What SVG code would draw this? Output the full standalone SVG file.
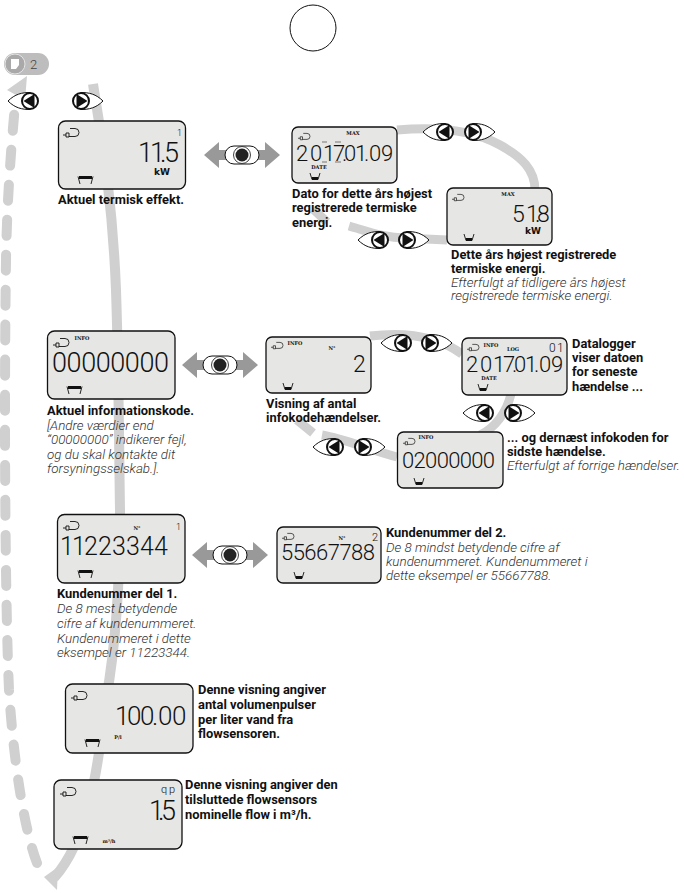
<svg xmlns="http://www.w3.org/2000/svg" width="684" height="893" viewBox="0 0 684 893">
<style>
.flow{fill:none;stroke:#d0d0d0;stroke-width:9}
.main{fill:none;stroke:#d0d0d0;stroke-width:10}
.box{fill:#e6e6e4;stroke:#111;stroke-width:1.3}
.t{font-family:Roboto,"Liberation Sans",sans-serif;font-size:12.9px;font-weight:700;fill:#111}
.i{font-family:Roboto,"Liberation Sans",sans-serif;font-size:13.400px;font-weight:300;font-style:italic;fill:#333}
.d{font-family:Roboto,"Liberation Sans",sans-serif;font-weight:300;fill:#111;text-anchor:start}
.l{font-family:"DejaVu Serif",serif;font-weight:700;font-size:5px;fill:#111;text-anchor:middle}
.k{font-family:"DejaVu Sans",sans-serif;font-weight:700;font-size:9px;fill:#111;text-anchor:start}
.ln{fill:none;stroke:#111;stroke-width:.9}
</style>
<defs>
<g id="plug"><path class="ln" d="M0 7h3M3 5h3v4h-3zM6 8.500h6a4 4 0 0 0 0-8h-5"/></g>
<g id="plugs"><path class="ln" d="M0 7h3M3 5h3v4h-3zM6 8.500h6a4 4 0 0 0 0-8h-5" transform="scale(.75)"/></g>
<g id="bd"><path class="ln" d="M0 .5L2 8M15 .5L13 8"/><rect x="1" y="0" width="13" height="3" fill="#111"/></g>
<g id="bu"><path class="ln" d="M0 0L2 6.500H8L10 0"/><rect x="2" y="4" width="6" height="2.800" fill="#111"/></g>
<g id="bl"><path d="M-22 0C-15-7-8-8.500 0-8.500V8.500C-8 8.500-15 7-22 0Z" fill="#fff" stroke="#111" stroke-width="1"/><circle r="8" fill="#fff" stroke="#111" stroke-width="2"/><path d="M-6.500 0L4.500-7V7Z" fill="#111"/></g>
<g id="br"><use href="#bl" transform="scale(-1,1)"/></g>
<g id="dbl"><path d="M-38 0L-23-13V-5H23V-13L38 0L23 13V5H-23V13Z" fill="#999"/><rect x="-17" y="-9" width="34" height="18" rx="9" fill="#fff" stroke="#111" stroke-width="1"/><circle r="8.500" fill="#fff" stroke="#111" stroke-width=".8"/><circle r="6.500" fill="#222"/></g>
</defs>

<g id="connectors">
<path class="main" stroke-dasharray="16 19" stroke-linecap="round" d="M37 863C26 835 14 770 9 690C5 600 4 400 6 260C7 200 11 150 15 105"/>
<path d="M7 90L27 76L25 100Z" fill="#d0d0d0"/>
<path class="main" d="M93 84C100 130 112 190 116 290C119 380 119 450 120 510C120 590 115 650 106 700C98 770 88 840 54 878"/>
<path d="M44 877L58 867L57 890Z" fill="#d0d0d0"/>
<path class="flow" d="M397 130C430 127 470 128 500 145C522 157 535 170 535 190"/>
<path class="flow" d="M313 209L327 222"/>
<path class="flow" d="M349 226C370 232 385 238 405 238L447 240"/>
<path class="flow" d="M370 336C410 331 440 338 462 354"/>
<path class="flow" d="M511 394C507 412 495 428 480 435"/>
<path class="flow" d="M297 420L313 433"/>
<path class="flow" d="M322 435C345 439 370 450 397 457"/>
</g>

<g id="start-circle"><circle cx="313" cy="28" r="23" fill="#fff" stroke="#111" stroke-width="1"/></g>
<g id="page-badge">
<rect x="4" y="53" width="45" height="22" rx="11" fill="#bdbdbd"/>
<circle cx="15" cy="64" r="10" fill="#a9a9a9" stroke="#e4e4e4" stroke-width="1"/>
<path d="M11 59h8v6l-3 4h-5z" fill="#fff"/>
<text x="30" y="69" font-family="Roboto,sans-serif" font-size="13" font-weight="300" fill="#444">2</text>
</g>

<g id="node-power">
<rect class="box" x="58.500" y="121" width="127" height="68" rx="7"/>
<use href="#plug" x="63" y="128"/><use href="#bd" x="78" y="176"/>
<text class="d" x="177" y="136" font-size="9">1</text>
<text class="d" x="138 150 160 164" y="162" font-size="27">11.5</text>
<text class="k" x="154" y="175" font-size="10">kW</text>
<text class="t" x="58" y="204">Aktuel termisk effekt.</text>
</g>
<g id="node-max-date">
<rect class="box" x="292" y="127" width="105" height="56" rx="6"/>
<use href="#plugs" x="298" y="133"/><use href="#bu" x="310" y="173"/>
<text class="l" x="353" y="135">MAX</text>
<text class="d" x="296 310 323 333 342 344 355 364 369 381" y="161" font-size="22">2017.01.09</text>
<path d="M322 142h5M322 162h5M335 142h6M335 162h6" stroke="#777" stroke-width="1" fill="none"/>
<text class="l" x="319" y="169" font-size="4">DATE</text>
<text class="t" x="292" y="198">Dato for dette års højest</text>
<text class="t" x="292" y="212">registrerede termiske</text>
<text class="t" x="292" y="227">energi.</text>
</g>
<g id="node-max-energy">
<rect class="box" x="447" y="188" width="105" height="57" rx="6"/>
<use href="#plugs" x="452" y="194"/><use href="#bu" x="464" y="234"/>
<text class="l" x="508" y="196">MAX</text>
<text class="d" x="512 526 535 537" y="222" font-size="23">51.8</text>
<text class="k" x="525" y="234" font-size="8">kW</text>
<text class="t" x="451" y="259">Dette års højest registrerede</text>
<text class="t" x="451" y="273">termiske energi.</text>
<text class="i" x="451" y="287">Efterfulgt af tidligere års højest</text>
<text class="i" x="451" y="300">registrerede termiske energi.</text>
</g>
<g id="node-info">
<rect class="box" x="47.500" y="331" width="127.500" height="68" rx="7"/>
<use href="#plug" x="53" y="338"/><use href="#bd" x="67" y="386"/>
<text class="l" x="82" y="340" font-size="5.500">INFO</text>
<text class="d" x="52" y="372" font-size="27" textLength="117">00000000</text>
<text class="t" x="47" y="415">Aktuel informationskode.</text>
<text class="i" x="47" y="430">[Andre værdier end</text>
<text class="i" x="47" y="444">“00000000” indikerer fejl,</text>
<text class="i" x="47" y="459">og du skal kontakte dit</text>
<text class="i" x="47" y="473">forsyningsselskab.].</text>
</g>
<g id="node-info-count">
<rect class="box" x="266" y="337" width="105" height="56" rx="6"/>
<use href="#plugs" x="271" y="342"/><use href="#bu" x="283" y="383"/>
<text class="l" x="295" y="345">INFO</text>
<text class="l" x="332" y="350" font-size="4.500">N°</text>
<text class="d" x="353" y="372" font-size="23">2</text>
<text class="t" x="266" y="408">Visning af antal</text>
<text class="t" x="266" y="422">infokodehændelser.</text>
</g>
<g id="node-log-date">
<rect class="box" x="462" y="338" width="105" height="57" rx="6"/>
<use href="#plugs" x="467" y="344"/><use href="#bu" x="478" y="384"/>
<text class="l" x="491" y="347">INFO</text>
<text class="l" x="513" y="351" font-size="4.500">LOG</text>
<text class="d" x="549 557" y="352" font-size="12">01</text>
<text class="d" x="466 480 493 503 512 514 525 534 539 551" y="372" font-size="22">2017.01.09</text>
<text class="l" x="489" y="380" font-size="4">DATE</text>
<text class="t" x="572" y="348">Datalogger</text>
<text class="t" x="572" y="362">viser datoen</text>
<text class="t" x="572" y="376">for seneste</text>
<text class="t" x="572" y="391">hændelse ...</text>
</g>
<g id="node-log-code">
<rect class="box" x="397.500" y="432" width="105.500" height="56" rx="6"/>
<use href="#plugs" x="403" y="438"/><use href="#bu" x="414" y="478"/>
<text class="l" x="426" y="439">INFO</text>
<text class="d" x="402" y="468" font-size="22" textLength="93">02000000</text>
<text class="t" x="507" y="442">... og dernæst infokoden for</text>
<text class="t" x="507" y="456">sidste hændelse.</text>
<text class="i" x="507" y="470">Efterfulgt af forrige hændelser.</text>
</g>
<g id="node-customer-1">
<rect class="box" x="57.500" y="514.500" width="127.500" height="68.500" rx="7"/>
<use href="#plug" x="63" y="521"/><use href="#bd" x="78" y="570"/>
<text class="l" x="137" y="530" font-size="5">N°</text>
<text class="d" x="176" y="530" font-size="9">1</text>
<text class="d" x="60 72 84 98 112 126 140 154 168" y="555" font-size="25">11223344</text>
<text class="t" x="57" y="598">Kundenummer del 1.</text>
<text class="i" x="57" y="613">De 8 mest betydende</text>
<text class="i" x="57" y="628">cifre af kundenummeret.</text>
<text class="i" x="57" y="643">Kundenummeret i dette</text>
<text class="i" x="57" y="657">eksempel er 11223344.</text>
</g>
<g id="node-customer-2">
<rect class="box" x="277" y="527" width="104" height="56" rx="6"/>
<use href="#plugs" x="282" y="533"/><use href="#bu" x="294" y="572"/>
<text class="l" x="342" y="540" font-size="4.500">N°</text>
<text class="d" x="372" y="541" font-size="11">2</text>
<text class="d" x="281" y="560" font-size="22" textLength="94">55667788</text>
<text class="t" x="386" y="537">Kundenummer del 2.</text>
<text class="i" x="386" y="552">De 8 mindst betydende cifre af</text>
<text class="i" x="386" y="566">kundenummeret. Kundenummeret i</text>
<text class="i" x="386" y="580">dette eksempel er 55667788.</text>
</g>
<g id="node-pulses">
<rect class="box" x="65.500" y="684" width="127.500" height="69" rx="7"/>
<use href="#plug" x="71" y="691"/><use href="#bd" x="85" y="739"/>
<text class="d" x="115 127 140 152 158 172" y="725" font-size="26">100.00</text>
<text class="l" x="118" y="739" font-size="6.500">P/l</text>
<text class="t" x="198" y="694">Denne visning angiver</text>
<text class="t" x="198" y="709">antal volumenpulser</text>
<text class="t" x="198" y="724">per liter vand fra</text>
<text class="t" x="198" y="738">flowsensoren.</text>
</g>
<g id="node-flow">
<rect class="box" x="54" y="780" width="128" height="69" rx="7"/>
<use href="#plug" x="60" y="787"/><use href="#bd" x="73" y="836"/>
<text class="d" x="161 169" y="793" font-size="11">qp</text>
<text class="d" x="149 158 161" y="820" font-size="27">1.5</text>
<text class="l" x="109" y="843" font-size="6.500">m³/h</text>
<text class="t" x="185" y="789">Denne visning angiver den</text>
<text class="t" x="185" y="804">tilsluttede flowsensors</text>
<text class="t" x="185" y="819">nominelle flow i m³/h.</text>
</g>

<g id="buttons">
<use href="#bl" x="30" y="101"/><use href="#br" x="81" y="101"/>
<use href="#bl" x="445" y="132"/><use href="#br" x="473" y="132"/>
<use href="#bl" x="380" y="240"/><use href="#br" x="407" y="240"/>
<use href="#bl" x="403" y="343"/><use href="#br" x="430" y="343"/>
<use href="#bl" x="485" y="413"/><use href="#br" x="513" y="413"/>
<use href="#bl" x="335" y="447"/><use href="#br" x="363" y="447"/>
<use href="#dbl" x="242" y="155"/>
<use href="#dbl" x="220" y="365"/>
<use href="#dbl" x="230" y="555"/>
</g>
</svg>
